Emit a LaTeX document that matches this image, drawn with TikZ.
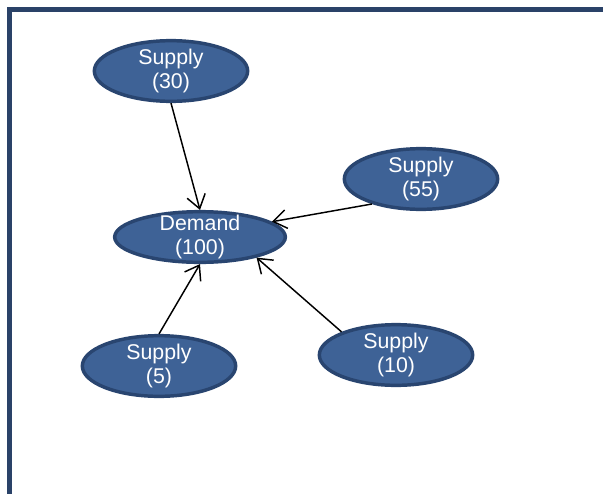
\documentclass[tikz,border=0pt]{standalone}
\usepackage{fontspec}
\setmainfont{Liberation Sans}
\usetikzlibrary{shapes.geometric,arrows.meta}
\definecolor{nodefill}{RGB}{62,98,150}
\definecolor{nodeline}{RGB}{41,69,112}
\definecolor{framecol}{RGB}{42,66,104}
\tikzset{
  supply/.style={ellipse, draw=nodeline, fill=nodefill, line width=2.6pt,
    minimum width=115pt, minimum height=45.5pt, inner xsep=0pt, inner ysep=-8pt,
    text=white, align=center, font=\fontsize{16}{18}\selectfont},
  demand/.style={supply, minimum width=128pt, minimum height=38pt},
  link/.style={draw=black, line width=1.1pt, -{Straight Barb[length=10pt,width=14pt,line width=1.1pt]}}
}
\begin{document}
\begin{tikzpicture}[x=0.75pt,y=-0.75pt]
\useasboundingbox (0,0) rectangle (603,493);
\clip (0,0) rectangle (603,493);
\fill[white] (0,0) rectangle (603,493);
\draw[framecol, line width=3.8pt] (9.5,9.5) rectangle (640,530);
\node[supply] (s30) at (171,71) {Supply\\(30)};
\node[supply] (s55) at (421,179) {Supply\\(55)};
\node[supply] (s5) at (159,366) {Supply\\(5)};
\node[supply] (s10) at (396,355) {Supply\\(10)};
\node[demand] (d) at (200,237) {Demand\\(100)};
\draw[link] (s30.south) -- (d.north);
\draw[link] (s55.207) -- (d.12);
\draw[link] (s5.north) -- (d.south);
\draw[link] (s10.157) -- (d.340);
\end{tikzpicture}
\end{document}
